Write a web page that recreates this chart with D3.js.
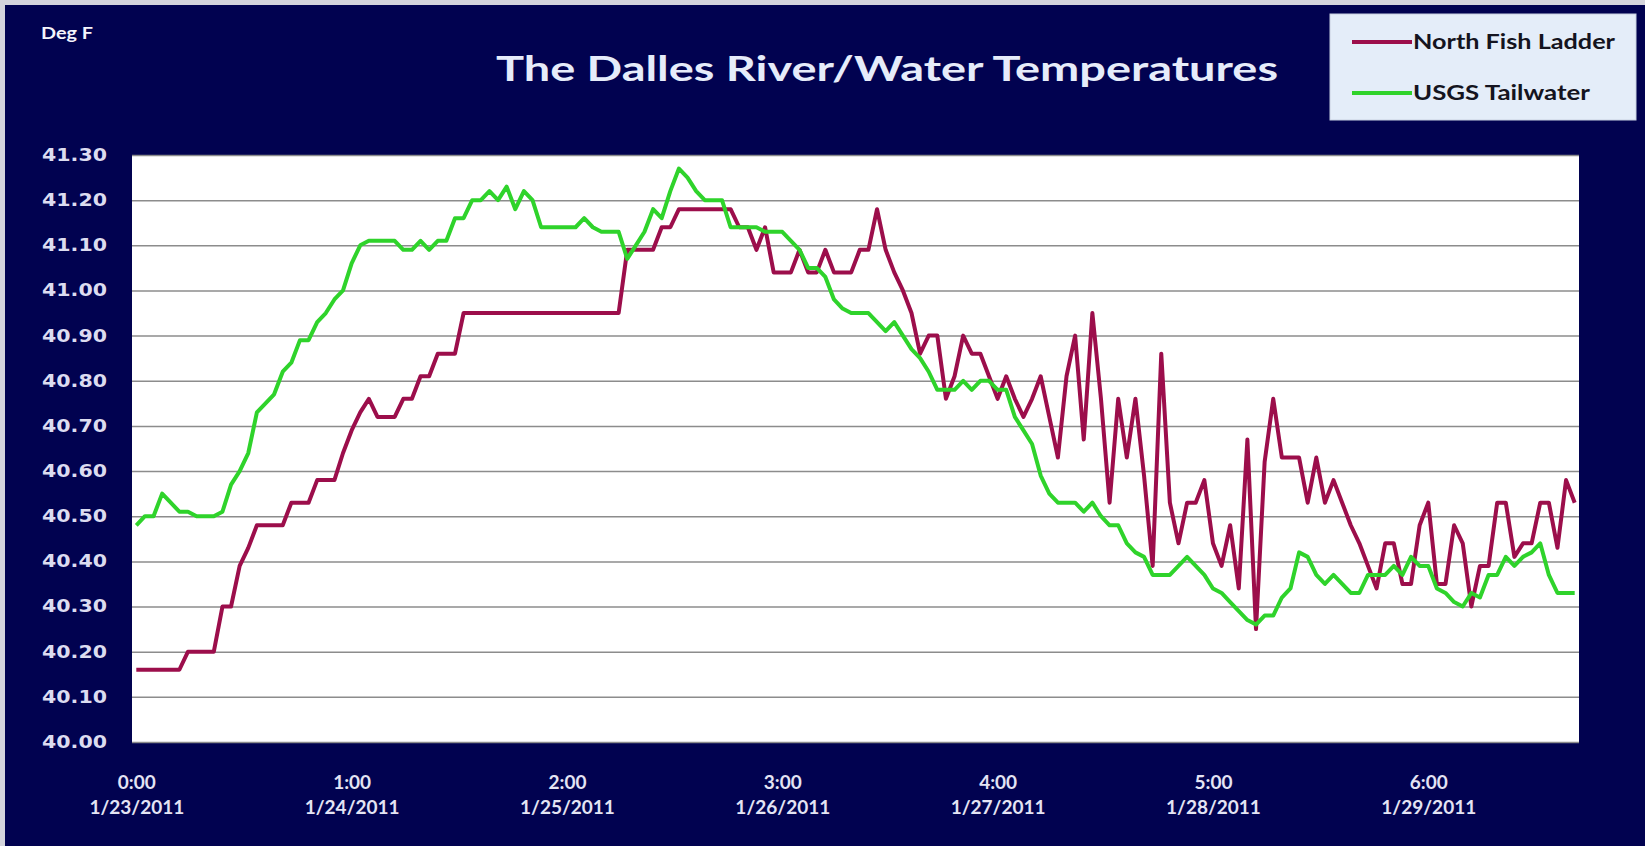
<!DOCTYPE html>
<html>
<head>
<meta charset="utf-8">
<script src="https://cdn.jsdelivr.net/npm/d3@7"></script>
<style>
  body { margin: 0; background: #d4d4dc; }
  svg { display: block; }
</style>
</head>
<body>
<svg id="chart"></svg>
<script>
// Hourly temperatures (deg F), starting 1/23/2011 0:00
const northFishLadder = [
  40.16, 40.16, 40.16, 40.16, 40.16, 40.16, 40.20, 40.20, 40.20, 40.20,
  40.30, 40.30, 40.39, 40.43, 40.48, 40.48, 40.48, 40.48, 40.53, 40.53,
  40.53, 40.58, 40.58, 40.58, 40.64, 40.69, 40.73, 40.76, 40.72, 40.72,
  40.72, 40.76, 40.76, 40.81, 40.81, 40.86, 40.86, 40.86, 40.95, 40.95,
  40.95, 40.95, 40.95, 40.95, 40.95, 40.95, 40.95, 40.95, 40.95, 40.95,
  40.95, 40.95, 40.95, 40.95, 40.95, 40.95, 40.95, 41.09, 41.09, 41.09,
  41.09, 41.14, 41.14, 41.18, 41.18, 41.18, 41.18, 41.18, 41.18, 41.18,
  41.14, 41.14, 41.09, 41.14, 41.04, 41.04, 41.04, 41.09, 41.04, 41.04,
  41.09, 41.04, 41.04, 41.04, 41.09, 41.09, 41.18, 41.09, 41.04, 41.00,
  40.95, 40.86, 40.90, 40.90, 40.76, 40.81, 40.90, 40.86, 40.86, 40.81,
  40.76, 40.81, 40.76, 40.72, 40.76, 40.81, 40.72, 40.63, 40.81, 40.90,
  40.67, 40.95, 40.76, 40.53, 40.76, 40.63, 40.76, 40.59, 40.39, 40.86,
  40.53, 40.44, 40.53, 40.53, 40.58, 40.44, 40.39, 40.48, 40.34, 40.67,
  40.25, 40.62, 40.76, 40.63, 40.63, 40.63, 40.53, 40.63, 40.53, 40.58,
  40.53, 40.48, 40.44, 40.39, 40.34, 40.44, 40.44, 40.35, 40.35, 40.48,
  40.53, 40.35, 40.35, 40.48, 40.44, 40.30, 40.39, 40.39, 40.53, 40.53,
  40.41, 40.44, 40.44, 40.53, 40.53, 40.43, 40.58, 40.53
];
const usgsTailwater = [
  40.48, 40.50, 40.50, 40.55, 40.53, 40.51, 40.51, 40.50, 40.50, 40.50,
  40.51, 40.57, 40.60, 40.64, 40.73, 40.75, 40.77, 40.82, 40.84, 40.89,
  40.89, 40.93, 40.95, 40.98, 41.00, 41.06, 41.10, 41.11, 41.11, 41.11,
  41.11, 41.09, 41.09, 41.11, 41.09, 41.11, 41.11, 41.16, 41.16, 41.20,
  41.20, 41.22, 41.20, 41.23, 41.18, 41.22, 41.20, 41.14, 41.14, 41.14,
  41.14, 41.14, 41.16, 41.14, 41.13, 41.13, 41.13, 41.07, 41.10, 41.13,
  41.18, 41.16, 41.22, 41.27, 41.25, 41.22, 41.20, 41.20, 41.20, 41.14,
  41.14, 41.14, 41.14, 41.13, 41.13, 41.13, 41.11, 41.09, 41.05, 41.05,
  41.03, 40.98, 40.96, 40.95, 40.95, 40.95, 40.93, 40.91, 40.93, 40.90,
  40.87, 40.85, 40.82, 40.78, 40.78, 40.78, 40.80, 40.78, 40.80, 40.80,
  40.78, 40.78, 40.72, 40.69, 40.66, 40.59, 40.55, 40.53, 40.53, 40.53,
  40.51, 40.53, 40.50, 40.48, 40.48, 40.44, 40.42, 40.41, 40.37, 40.37,
  40.37, 40.39, 40.41, 40.39, 40.37, 40.34, 40.33, 40.31, 40.29, 40.27,
  40.26, 40.28, 40.28, 40.32, 40.34, 40.42, 40.41, 40.37, 40.35, 40.37,
  40.35, 40.33, 40.33, 40.37, 40.37, 40.37, 40.39, 40.37, 40.41, 40.39,
  40.39, 40.34, 40.33, 40.31, 40.30, 40.33, 40.32, 40.37, 40.37, 40.41,
  40.39, 40.41, 40.42, 40.44, 40.37, 40.33, 40.33, 40.33
];

// category axis labels (every 25th reading)
const tickIndex = [0, 25, 50, 75, 100, 125, 150];
const tickTimes = ["0:00", "1:00", "2:00", "3:00", "4:00", "5:00", "6:00"];
const tickDates = ["1/23/2011", "1/24/2011", "1/25/2011", "1/26/2011", "1/27/2011", "1/28/2011", "1/29/2011"];
const yTicks = [40.00, 40.10, 40.20, 40.30, 40.40, 40.50, 40.60, 40.70, 40.80, 40.90, 41.00, 41.10, 41.20, 41.30];

const seriesNames = ["North Fish Ladder", "USGS Tailwater"];
const seriesColors = ["#9c0e4b", "#2fd32b"];
const seriesData = [northFishLadder, usgsTailwater];

const width = 1645;
const height = 846;
const plot = { left: 132, right: 1579, top: 155, bottom: 742 };

const svg = d3.select("#chart")
  .attr("width", width)
  .attr("height", height);

// navy frame
svg.append("rect")
  .attr("x", 5).attr("y", 5)
  .attr("width", width - 5).attr("height", height - 5)
  .attr("fill", "#010250");

// white plot area
svg.append("rect")
  .attr("x", plot.left).attr("y", plot.top)
  .attr("width", plot.right - plot.left).attr("height", plot.bottom - plot.top)
  .attr("fill", "#ffffff");

const x = d3.scalePoint()
  .domain(d3.range(northFishLadder.length))
  .range([plot.left, plot.right])
  .padding(0.5);

const y = d3.scaleLinear()
  .domain([40, 41.3])
  .range([plot.bottom, plot.top]);

// y axis with gridlines
const yAxis = svg.append("g")
  .attr("transform", `translate(${plot.left},0)`)
  .call(d3.axisLeft(y)
    .tickValues(yTicks)
    .tickFormat(d3.format(".2f"))
    .tickSize(-(plot.right - plot.left))
    .tickPadding(25));
yAxis.select(".domain").remove();
yAxis.selectAll("line")
  .attr("stroke", "#8c8c8c")
  .attr("stroke-width", 1.5);
yAxis.selectAll("text")
  .attr("fill", "#dcdcf0")
  .attr("font-family", "'DejaVu Sans', Verdana, sans-serif")
  .attr("font-weight", "bold")
  .attr("font-size", 17)
  .attr("textLength", 65)
  .attr("lengthAdjust", "spacingAndGlyphs");

// x axis labels (two lines)
const xAxis = svg.append("g")
  .attr("transform", `translate(0,${plot.bottom})`)
  .call(d3.axisBottom(x).tickValues(tickIndex).tickSize(0).tickFormat(""));
xAxis.select(".domain").remove();
xAxis.selectAll(".tick text").each(function(d, i) {
  const t = d3.select(this)
    .attr("y", null)
    .attr("dy", null)
    .attr("fill", "#e4e4f4")
    .attr("font-family", "Lato, 'Open Sans', sans-serif")
    .attr("font-weight", "bold")
    .attr("font-size", 19)
    .attr("text-anchor", "middle");
  t.append("tspan").attr("x", 0).attr("y", 47).text(tickTimes[i]);
  t.append("tspan").attr("x", 0).attr("y", 72).text(tickDates[i]);
});

// series lines
const line = d3.line()
  .x((d, i) => x(i))
  .y(d => y(d));

seriesData.forEach((s, k) => {
  svg.append("path")
    .datum(s)
    .attr("d", line)
    .attr("fill", "none")
    .attr("stroke", seriesColors[k])
    .attr("stroke-width", 4)
    .attr("stroke-linejoin", "round");
});

// title and unit label
svg.append("text")
  .attr("x", 496).attr("y", 81)
  .attr("textLength", 782)
  .attr("lengthAdjust", "spacingAndGlyphs")
  .attr("fill", "#e6ecfa")
  .attr("font-family", "Lato, 'Open Sans', sans-serif")
  .attr("font-weight", "bold")
  .attr("font-size", 34)
  .text("The Dalles River/Water Temperatures");

svg.append("text")
  .attr("x", 41).attr("y", 39)
  .attr("textLength", 52)
  .attr("lengthAdjust", "spacingAndGlyphs")
  .attr("fill", "#f4f4fc")
  .attr("font-family", "Lato, 'Open Sans', sans-serif")
  .attr("font-weight", "bold")
  .attr("font-size", 17)
  .text("Deg F");

// legend
const legendWidths = [202, 177];
const legend = svg.append("g");
legend.append("rect")
  .attr("x", 1330).attr("y", 14)
  .attr("width", 306).attr("height", 106)
  .attr("fill", "#e4edf9")
  .attr("stroke", "#c8d0e0");

seriesNames.forEach((name, k) => {
  const ly = 42 + k * 51;
  legend.append("line")
    .attr("x1", 1352).attr("x2", 1412)
    .attr("y1", ly).attr("y2", ly)
    .attr("stroke", seriesColors[k])
    .attr("stroke-width", 4);
  legend.append("text")
    .attr("x", 1413).attr("y", ly + 7)
    .attr("textLength", legendWidths[k])
    .attr("lengthAdjust", "spacingAndGlyphs")
    .attr("fill", "#141420")
    .attr("font-family", "Lato, 'Open Sans', sans-serif")
    .attr("font-weight", "bold")
    .attr("font-size", 20)
    .text(name);
});
</script>
</body>
</html>
